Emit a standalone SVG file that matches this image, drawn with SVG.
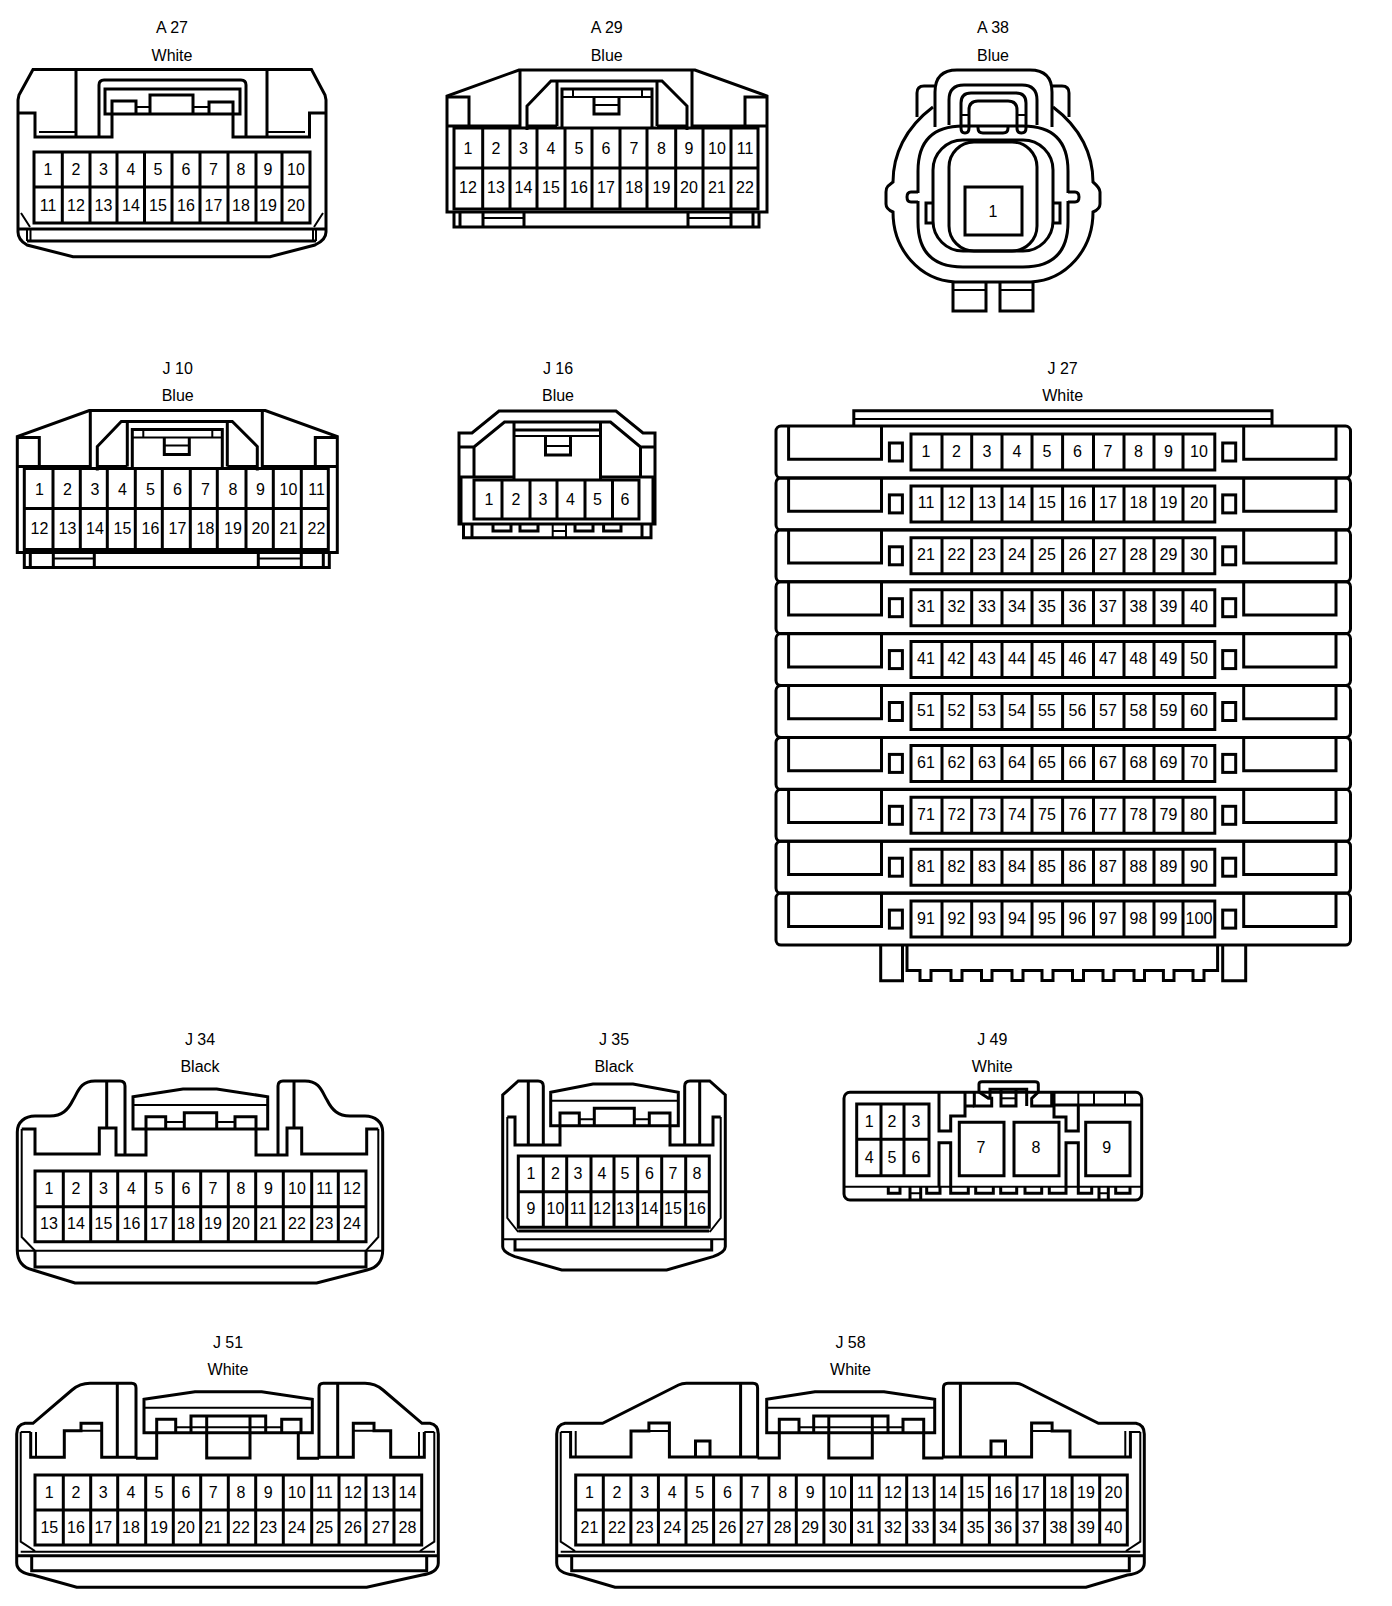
<svg xmlns="http://www.w3.org/2000/svg" xmlns:xlink="http://www.w3.org/1999/xlink" width="1392" height="1606" viewBox="0 0 1392 1606">
<style>
.s{fill:none;stroke:#000;stroke-width:3}
.t{fill:none;stroke:#000;stroke-width:2}
text{font-family:"Liberation Sans",Arial,sans-serif;font-size:16px;fill:#000;text-anchor:middle}
</style>
<defs>
<g id="j27row">
<rect class="s" x="776" y="426" width="574.5" height="52" rx="5"/>
<path class="s" d="M788.6 426V459.3H881.5V426M1243.7 426V459.3H1336V426"/>
<rect class="s" x="889.4" y="443" width="13" height="18"/>
<rect class="s" x="1222.7" y="443" width="13" height="18"/>
<path class="s" d="M911 434H1214.8V470H911ZM942 434V470M971.7 434V470M1002 434V470M1032 434V470M1062.6 434V470M1093.5 434V470M1124 434V470M1154 434V470M1183 434V470"/>
</g>
<g id="a29shell">
<path class="s" d="M447 212V96L519 70H695L767 96V212ZM454 212V227H759V212M460 212V227M483 212V227M524 212V227M688 212V227M731 212V227M753 212V227"/>
<path class="t" d="M483 218H524M688 218H731"/>
<path class="s" d="M447 97H469V126M447 126H520V70M527 130V106L551 81H662L687 106V130M692 70V126H767M745 126V97H767M557 81V126M657 81V126M527 126H557M657 126H687"/>
<path class="s" d="M562 127V89H652V127M594 97V114H619V97"/>
<path class="t" d="M562 97H652M573 89V97M642 89V97M594 105H619"/>
<path class="s" d="M454 128H758V209H454ZM454 168H758M482.7 128V209M510 128V209M537 128V209M565 128V209M592 128V209M620 128V209M647 128V209M675.7 128V209M703 128V209M731 128V209"/>
</g>
<g id="bot51">
<path class="t" d="M20.7 1551.7H435M20.7 1432V1541.7L35 1551M434.3 1432V1541.7L420 1551"/>
<path class="s" d="M17 1555.7H438"/>
</g>
</defs>
<rect width="1392" height="1606" fill="#fff"/>

<g id="A27">
<text x="172" y="33">A 27</text><text x="172" y="61">White</text>
<path class="s" d="M33 69.5H311.5L325 95 326 100V232Q326 240 315 245L270 256.7H73L27 245Q18 240 18 232V100L19 95Z"/>
<path class="s" d="M18 113H35V137H112V113M326 113H309.5V137H233V113M76 70V137M267 70V137M99 137V85Q99 80 104 80H241Q246 80 246 85V137"/>
<path class="s" d="M105 89H240V114H105ZM112 114V101H136V114M150 114V95H193V114M209 114V102H233V114"/>
<path class="t" d="M136 107H150M193 107H209M39 132H76M267 132H305M21 213L30 227M323 213L314 227M27 229V241M30.5 229V241M316 229V241M313 229V241"/>
<path class="s" d="M34 152H310V223H34ZM34 187H310M62.3 152V223M90 152V223M117 152V223M144.5 152V223M172 152V223M200 152V223M228 152V223M256 152V223M282 152V223M18 229H326M27 241H316"/>
<text x="48" y="175">1</text><text x="76" y="175">2</text><text x="103.5" y="175">3</text><text x="131" y="175">4</text><text x="158" y="175">5</text><text x="186" y="175">6</text><text x="213.5" y="175">7</text><text x="241" y="175">8</text><text x="268" y="175">9</text><text x="296" y="175">10</text>
<text x="48" y="210.5">11</text><text x="76" y="210.5">12</text><text x="103.5" y="210.5">13</text><text x="131" y="210.5">14</text><text x="158" y="210.5">15</text><text x="186" y="210.5">16</text><text x="213.5" y="210.5">17</text><text x="241" y="210.5">18</text><text x="268" y="210.5">19</text><text x="296" y="210.5">20</text>
</g>

<g id="A29">
<text x="606.7" y="33">A 29</text><text x="606.7" y="61">Blue</text>
<use href="#a29shell" xlink:href="#a29shell"/>
<text x="468" y="153.5">1</text><text x="496" y="153.5">2</text><text x="523.5" y="153.5">3</text><text x="551" y="153.5">4</text><text x="579" y="153.5">5</text><text x="606" y="153.5">6</text><text x="634" y="153.5">7</text><text x="661.5" y="153.5">8</text><text x="689" y="153.5">9</text><text x="717" y="153.5">10</text><text x="745" y="153.5">11</text>
<text x="468" y="192.5">12</text><text x="496" y="192.5">13</text><text x="523.5" y="192.5">14</text><text x="551" y="192.5">15</text><text x="579" y="192.5">16</text><text x="606" y="192.5">17</text><text x="634" y="192.5">18</text><text x="661.5" y="192.5">19</text><text x="689" y="192.5">20</text><text x="717" y="192.5">21</text><text x="745" y="192.5">22</text>
</g>

<g id="A38">
<text x="993" y="33">A 38</text><text x="993" y="61">Blue</text>
<path class="s" d="M933 107C905 128 893 155 893 182L888 186Q886 188 886 192V204Q886 209 893 212C893 250 920 280 955 282H1031C1066 280 1093 250 1093 212Q1100 209 1100 204V192Q1100 188 1093 182C1093 155 1081 128 1053 107"/>
<path class="s" d="M935 127V92Q935 70 957 70H1030Q1052 70 1052 92V127M917 117V93Q917 86 924 86H935M1069 117V93Q1069 86 1062 86H1052"/>
<path class="s" d="M918 193V171Q918 126 963 126H1023Q1068 126 1068 171V193M1068 201V222Q1068 267 1023 267H963Q918 267 918 222V201"/>
<path class="s" d="M918 192H911Q907 192 907 197Q907 202 911 202H918M1068 192H1075Q1079 192 1079 197Q1079 202 1075 202H1068"/>
<rect class="s" x="933" y="140" width="120" height="111" rx="30"/>
<rect class="s" x="949" y="142" width="88" height="109" rx="25"/>
<path class="s" d="M933 203H926V223H933M1053 203H1060V223H1053M949 125V100Q949 85 964 85H1022Q1037 85 1037 100V125"/>
<path class="s" d="M961 128V103Q961 93 971 93H1016Q1026 93 1026 103V128Q1026 133 1021.5 133Q1017 133 1017 128V110Q1017 101 1008 101H978Q969 101 969 110V128Q969 133 965 133Q961 133 961 128ZM978 125V128Q978 133 983 133H1003Q1008 133 1008 128V125"/>
<path class="t" d="M961 115H969M1017 115H1026M953 290H986M1000 290H1033"/>
<path class="s" d="M953 282V311H986V282M1000 282V311H1033V282"/>
<rect class="s" x="965" y="187" width="57" height="48"/>
<text x="993" y="216.5">1</text>
</g>

<g id="J10">
<text x="177.7" y="374">J 10</text><text x="177.7" y="401">Blue</text>
<g transform="translate(-429.7 340.5)">
<use href="#a29shell" xlink:href="#a29shell"/>
</g>
<g transform="translate(-428.5 341.3)">
<text x="468" y="153.5">1</text><text x="496" y="153.5">2</text><text x="523.5" y="153.5">3</text><text x="551" y="153.5">4</text><text x="579" y="153.5">5</text><text x="606" y="153.5">6</text><text x="634" y="153.5">7</text><text x="661.5" y="153.5">8</text><text x="689" y="153.5">9</text><text x="717" y="153.5">10</text><text x="745" y="153.5">11</text>
<text x="468" y="192.5">12</text><text x="496" y="192.5">13</text><text x="523.5" y="192.5">14</text><text x="551" y="192.5">15</text><text x="579" y="192.5">16</text><text x="606" y="192.5">17</text><text x="634" y="192.5">18</text><text x="661.5" y="192.5">19</text><text x="689" y="192.5">20</text><text x="717" y="192.5">21</text><text x="745" y="192.5">22</text>
</g>
</g>

<g id="J16">
<text x="558" y="374">J 16</text><text x="558" y="401">Blue</text>
<path class="s" d="M459 524V433H472L499 411H616L643 433H655V524ZM463.5 524V537.7H651V524M472 524V537.7M642 524V537.7"/>
<path class="s" d="M459 447H474L504.5 422H610.5L640.5 447H655M474 447V477M640.5 447V477M514 422V480M600.5 422V480M514 430H600.5M545.5 436V455H570.5V436M459 477H514M600.5 477H655M461 477V524M653 477V524"/>
<path class="t" d="M514 436H600.5M545.5 446H570.5"/>
<path class="s" d="M474 480H639V519H474ZM502 480V519M530 480V519M557 480V519M585 480V519M612.5 480V519"/>
<path class="s" d="M493 524V531H511V524M520 524V531H538V524M575 524V531H593V524M603.6 524V531H621V524"/>
<path class="t" d="M552.7 524V537M566 524V537M552.7 531H566"/>
<text x="489" y="504.5">1</text><text x="516" y="504.5">2</text><text x="543" y="504.5">3</text><text x="570.5" y="504.5">4</text><text x="597.5" y="504.5">5</text><text x="625" y="504.5">6</text>
</g>

<g id="J27">
<text x="1062.6" y="374">J 27</text><text x="1062.6" y="401">White</text>
<path class="s" d="M853.8 426V410.7H1272V426"/>
<path class="t" d="M853.8 419H1272"/>
<use href="#j27row" xlink:href="#j27row"/>
<use href="#j27row" xlink:href="#j27row" y="51.9"/>
<use href="#j27row" xlink:href="#j27row" y="103.8"/>
<use href="#j27row" xlink:href="#j27row" y="155.7"/>
<use href="#j27row" xlink:href="#j27row" y="207.6"/>
<use href="#j27row" xlink:href="#j27row" y="259.5"/>
<use href="#j27row" xlink:href="#j27row" y="311.4"/>
<use href="#j27row" xlink:href="#j27row" y="363.3"/>
<use href="#j27row" xlink:href="#j27row" y="415.2"/>
<use href="#j27row" xlink:href="#j27row" y="467.1"/>
<path class="s" d="M880.7 945.5V980.7H902.5V945.5M1222.7 945.5V980.7H1245.7V945.5"/>
<path class="s" d="M907 945.5V970.5H920V980.5H931V970.5H951V980.5H962V970.5H981.5V980.5H992V970.5H1012V980.5H1023V970.5H1042V980.5H1053V970.5H1072.5V980.5H1083.5V970.5H1103V980.5H1114V970.5H1134V980.5H1144.5V970.5H1163.4V980.5H1174V970.5H1193V980.5H1204V970.5H1217.6V945.5"/>
<text x="926" y="456.5">1</text><text x="956.5" y="456.5">2</text><text x="987" y="456.5">3</text><text x="1017" y="456.5">4</text><text x="1047" y="456.5">5</text><text x="1077.5" y="456.5">6</text><text x="1108" y="456.5">7</text><text x="1138.5" y="456.5">8</text><text x="1168.5" y="456.5">9</text><text x="1199" y="456.5">10</text>
<text x="926" y="508.4">11</text><text x="956.5" y="508.4">12</text><text x="987" y="508.4">13</text><text x="1017" y="508.4">14</text><text x="1047" y="508.4">15</text><text x="1077.5" y="508.4">16</text><text x="1108" y="508.4">17</text><text x="1138.5" y="508.4">18</text><text x="1168.5" y="508.4">19</text><text x="1199" y="508.4">20</text>
<text x="926" y="560.3">21</text><text x="956.5" y="560.3">22</text><text x="987" y="560.3">23</text><text x="1017" y="560.3">24</text><text x="1047" y="560.3">25</text><text x="1077.5" y="560.3">26</text><text x="1108" y="560.3">27</text><text x="1138.5" y="560.3">28</text><text x="1168.5" y="560.3">29</text><text x="1199" y="560.3">30</text>
<text x="926" y="612.2">31</text><text x="956.5" y="612.2">32</text><text x="987" y="612.2">33</text><text x="1017" y="612.2">34</text><text x="1047" y="612.2">35</text><text x="1077.5" y="612.2">36</text><text x="1108" y="612.2">37</text><text x="1138.5" y="612.2">38</text><text x="1168.5" y="612.2">39</text><text x="1199" y="612.2">40</text>
<text x="926" y="664.1">41</text><text x="956.5" y="664.1">42</text><text x="987" y="664.1">43</text><text x="1017" y="664.1">44</text><text x="1047" y="664.1">45</text><text x="1077.5" y="664.1">46</text><text x="1108" y="664.1">47</text><text x="1138.5" y="664.1">48</text><text x="1168.5" y="664.1">49</text><text x="1199" y="664.1">50</text>
<text x="926" y="716">51</text><text x="956.5" y="716">52</text><text x="987" y="716">53</text><text x="1017" y="716">54</text><text x="1047" y="716">55</text><text x="1077.5" y="716">56</text><text x="1108" y="716">57</text><text x="1138.5" y="716">58</text><text x="1168.5" y="716">59</text><text x="1199" y="716">60</text>
<text x="926" y="767.9">61</text><text x="956.5" y="767.9">62</text><text x="987" y="767.9">63</text><text x="1017" y="767.9">64</text><text x="1047" y="767.9">65</text><text x="1077.5" y="767.9">66</text><text x="1108" y="767.9">67</text><text x="1138.5" y="767.9">68</text><text x="1168.5" y="767.9">69</text><text x="1199" y="767.9">70</text>
<text x="926" y="819.8">71</text><text x="956.5" y="819.8">72</text><text x="987" y="819.8">73</text><text x="1017" y="819.8">74</text><text x="1047" y="819.8">75</text><text x="1077.5" y="819.8">76</text><text x="1108" y="819.8">77</text><text x="1138.5" y="819.8">78</text><text x="1168.5" y="819.8">79</text><text x="1199" y="819.8">80</text>
<text x="926" y="871.7">81</text><text x="956.5" y="871.7">82</text><text x="987" y="871.7">83</text><text x="1017" y="871.7">84</text><text x="1047" y="871.7">85</text><text x="1077.5" y="871.7">86</text><text x="1108" y="871.7">87</text><text x="1138.5" y="871.7">88</text><text x="1168.5" y="871.7">89</text><text x="1199" y="871.7">90</text>
<text x="926" y="923.6">91</text><text x="956.5" y="923.6">92</text><text x="987" y="923.6">93</text><text x="1017" y="923.6">94</text><text x="1047" y="923.6">95</text><text x="1077.5" y="923.6">96</text><text x="1108" y="923.6">97</text><text x="1138.5" y="923.6">98</text><text x="1168.5" y="923.6">99</text><text x="1199" y="923.6" textLength="27" lengthAdjust="spacingAndGlyphs">100</text>
</g>

<g id="J34">
<text x="200" y="1045">J 34</text><text x="200" y="1072">Black</text>
<path class="s" d="M125 1155V1086Q125 1081 120 1081H95C80 1081 78 1092 73 1100C68 1110 62 1116 50 1116H35C25 1116 17.3 1122 17.3 1132V1250C17.3 1262 24 1268 33 1270L75 1283H316.7L367 1270C376 1268 382.7 1262 382.7 1250V1132C382.7 1122 375 1116 365 1116H350C338 1116 332 1110 327 1100C322 1092 320 1081 305 1081H283Q278 1081 278 1086V1155"/>
<path class="s" d="M21.7 1129H35V1154H99.3V1128H116V1155H146V1129M378.3 1129H366.7V1154H301.7V1128H287V1155H256V1129M106.7 1081V1128M294 1081V1128"/>
<path class="s" d="M133 1096.7L183 1089H216.7L267.7 1096.7V1129H133ZM146 1129V1116.7H165.7V1129M184.3 1129V1112.7H216.7V1129M235 1129V1116.7H256V1129"/>
<path class="t" d="M133 1105H267.7M165.7 1122H184.3M216.7 1122H235M21.7 1129V1237L35 1250.7M378.3 1129V1237L366 1250.7"/>
<path class="s" d="M35 1171H366V1241.7H35ZM35 1206.7H366M63.3 1171V1241.7M90.7 1171V1241.7M117.7 1171V1241.7M145.7 1171V1241.7M173.3 1171V1241.7M200.7 1171V1241.7M228.3 1171V1241.7M255.7 1171V1241.7M283.3 1171V1241.7M311.7 1171V1241.7M338.3 1171V1241.7"/>
<path class="t" d="M17.3 1250.7H382.7"/>
<path class="s" d="M35 1250.7V1267H366V1250.7"/>
<text x="49" y="1194">1</text><text x="76" y="1194">2</text><text x="103.5" y="1194">3</text><text x="131.5" y="1194">4</text><text x="159" y="1194">5</text><text x="186" y="1194">6</text><text x="213" y="1194">7</text><text x="241" y="1194">8</text><text x="268.5" y="1194">9</text><text x="297" y="1194">10</text><text x="324.5" y="1194">11</text><text x="352" y="1194">12</text>
<text x="49" y="1229">13</text><text x="76" y="1229">14</text><text x="103.5" y="1229">15</text><text x="131.5" y="1229">16</text><text x="159" y="1229">17</text><text x="186" y="1229">18</text><text x="213" y="1229">19</text><text x="241" y="1229">20</text><text x="268.5" y="1229">21</text><text x="297" y="1229">22</text><text x="324.5" y="1229">23</text><text x="352" y="1229">24</text>
</g>

<g id="J35">
<text x="614" y="1045">J 35</text><text x="614" y="1072">Black</text>
<path class="s" d="M543.3 1145V1086Q543.3 1081 538 1081H518.3L502.7 1095V1246.7Q502.7 1252 515 1256.7L561.7 1270H666.7L713 1256.7Q725.3 1252 725.3 1246.7V1095L709.7 1081H690Q684.7 1081 684.7 1086V1145"/>
<path class="s" d="M507.3 1117H515V1145H560V1125M720.7 1117H713V1145H670V1125M528.3 1081V1145M699.7 1081V1145"/>
<path class="s" d="M550.7 1092.3L593 1084H633L678.3 1092.3V1125.7H550.7ZM560 1125V1113H579.3V1125M594.3 1125V1108.3H634.3V1125M649.3 1125V1113H670V1125"/>
<path class="t" d="M550.7 1100.7H678.3M579.3 1119.3H594.3M634.3 1119.3H649.3M507.3 1117V1218L518.3 1232M720.7 1117V1218L709.7 1232"/>
<path class="s" d="M518.3 1156H709.3V1227.3H518.3ZM518.3 1191.7H709.3M543.3 1156V1227.3M566.7 1156V1227.3M591 1156V1227.3M614 1156V1227.3M637.7 1156V1227.3M661.7 1156V1227.3M685.7 1156V1227.3M518.3 1231H709.3"/>
<path class="t" d="M503 1239.3H725"/>
<path class="s" d="M515 1239.3V1250H711.7V1239.3"/>
<text x="531" y="1178.5">1</text><text x="555.5" y="1178.5">2</text><text x="578" y="1178.5">3</text><text x="602" y="1178.5">4</text><text x="625" y="1178.5">5</text><text x="649.5" y="1178.5">6</text><text x="673" y="1178.5">7</text><text x="697" y="1178.5">8</text>
<text x="531" y="1214">9</text><text x="555.5" y="1214">10</text><text x="578" y="1214">11</text><text x="602" y="1214">12</text><text x="625" y="1214">13</text><text x="649.5" y="1214">14</text><text x="673" y="1214">15</text><text x="697" y="1214">16</text>
</g>

<g id="J49">
<text x="992.3" y="1045">J 49</text><text x="992.3" y="1072">White</text>
<rect class="s" x="844" y="1092.3" width="297.7" height="107.7" rx="6"/>
<path class="s" d="M979 1092V1084Q979 1081.7 982 1081.7H1035Q1038.3 1081.7 1038.3 1084V1092L1031.7 1098.3V1106H1051.7V1092.3M979 1092L988.3 1098.3H991.7V1106H974.3V1092.3M990 1098.3V1089.3H1026.7V1106M1001 1089.3V1106H1016V1089.3"/>
<path class="t" d="M1001 1098.3H1016"/>
<path class="s" d="M939 1092.3V1131H950.7V1116H965V1092.3M965 1106H974.3M1054 1092.3V1117H1066V1131H1078.3V1105M1051.7 1105H1141.7"/>
<path class="t" d="M1078.3 1092.3V1105M1094 1092.3V1105M1125 1092.3V1105"/>
<path class="s" d="M939 1186.7V1142.7H950.7V1186.7M1066 1186.7V1142.7H1078.3V1186.7"/>
<path class="t" d="M845 1186.7H1141"/>
<path class="s" d="M856.7 1104H929V1175.7H856.7ZM856.7 1139.3H929M881 1104V1175.7M904 1104V1175.7M959.3 1122.3H1004V1175.7H959.3ZM1014 1122.3H1059V1175.7H1014ZM1085.7 1122.3H1130V1175.7H1085.7Z"/>
<path class="s" d="M888.3 1186.7V1193.3H900V1186.7M926.7 1186.7V1193.3H940V1186.7M950.7 1186.7V1193.3H968.3V1186.7M975.7 1186.7V1193.3H993.3V1186.7M1000.7 1186.7V1193.3H1016.7V1186.7M1025 1186.7V1193.3H1041.7V1186.7M1049.3 1186.7V1193.3H1066V1186.7M1078.3 1186.7V1193.3H1091.7V1186.7M1115.7 1186.7V1193.3H1130V1186.7M910 1186.7V1200M920.7 1186.7V1200M1099 1186.7V1200M1108.3 1186.7V1200"/>
<path class="t" d="M910 1193.3H920.7M1099 1193.3H1108.3"/>
<text x="869.3" y="1127">1</text><text x="892" y="1127">2</text><text x="916" y="1127">3</text>
<text x="869.3" y="1162.5">4</text><text x="892" y="1162.5">5</text><text x="916" y="1162.5">6</text>
<text x="981" y="1152.5">7</text><text x="1036" y="1152.5">8</text><text x="1106.7" y="1152.5">9</text>
</g>

<g id="J51">
<text x="228" y="1348">J 51</text><text x="228" y="1375">White</text>
<path class="s" d="M136 1458.3V1388Q136 1383.3 131.7 1383.3H90Q80 1383.3 72 1390L33 1423.3H25Q16.7 1425 16.7 1434V1563C16.7 1570 24 1574 33 1575L76.7 1587.3H366.7L422 1575C431 1574 438.3 1570 438.3 1563V1434Q438.3 1425 430 1423.3H422L383 1390Q375 1383.3 365 1383.3H323.3Q319 1383.3 319 1388V1458.3"/>
<path class="s" d="M30.7 1432V1457.3H64.3V1430.7H81V1423.3H101.7V1457.3H136M136 1458.3H156.7V1431.7M424.3 1432V1457.3H390.7V1430.7H374V1423.3H353.3V1457.3H319M319 1458.3H298.3V1431.7M117.3 1383V1457M337.7 1383V1457"/>
<path class="t" d="M81 1430.7H101.7M353.3 1430.7H374M36 1432V1457M419 1432V1457M20.7 1432H30.7M424.3 1432H434.3"/>
<path class="s" d="M144 1399.3L195 1391.7H261.7L312.3 1399.3V1432.7H144ZM156.7 1432V1419.3H175.7V1432M191 1432V1416H265.7V1432M281.7 1432V1419.3H301V1432M206.7 1416V1458H250V1416"/>
<path class="t" d="M144 1407.7H312.3M175.7 1427.3H281.7"/>
<path class="s" d="M35 1475H421.7V1545H35ZM35 1510H421.7M63.3 1475V1545M90.7 1475V1545M117.7 1475V1545M145.7 1475V1545M173.3 1475V1545M200.7 1475V1545M228.3 1475V1545M255.7 1475V1545M283.3 1475V1545M311.7 1475V1545M339 1475V1545M366 1475V1545M394 1475V1545"/>
<use href="#bot51" xlink:href="#bot51"/>
<path class="s" d="M31.7 1555.7V1570.7H426.7V1555.7"/>
<text x="49.3" y="1498">1</text><text x="76" y="1498">2</text><text x="103.3" y="1498">3</text><text x="131" y="1498">4</text><text x="159" y="1498">5</text><text x="186" y="1498">6</text><text x="213.3" y="1498">7</text><text x="241" y="1498">8</text><text x="268.3" y="1498">9</text><text x="296.7" y="1498">10</text><text x="324.3" y="1498">11</text><text x="353" y="1498">12</text><text x="380.7" y="1498">13</text><text x="407.5" y="1498">14</text>
<text x="49.3" y="1533">15</text><text x="76" y="1533">16</text><text x="103.3" y="1533">17</text><text x="131" y="1533">18</text><text x="159" y="1533">19</text><text x="186" y="1533">20</text><text x="213.3" y="1533">21</text><text x="241" y="1533">22</text><text x="268.3" y="1533">23</text><text x="296.7" y="1533">24</text><text x="324.3" y="1533">25</text><text x="353" y="1533">26</text><text x="380.7" y="1533">27</text><text x="407.5" y="1533">28</text>
</g>

<g id="J58">
<text x="850.5" y="1348">J 58</text><text x="850.5" y="1375">White</text>
<path class="s" d="M757.6 1458V1388Q757.6 1383.3 753 1383.3H686.4Q682 1383.3 678.5 1385L602.6 1423.3H565Q556.7 1425 556.7 1434V1563C556.7 1570 564 1574 573.7 1575L615 1587.3H1086L1127.3 1575C1137 1574 1144.3 1570 1144.3 1563V1434Q1144.3 1425 1136 1423.3H1098.4L1022.5 1385Q1019 1383.3 1014.6 1383.3H948Q943.4 1383.3 943.4 1388V1458"/>
<path class="s" d="M570.6 1431V1457H631V1431H648.9V1423H669.4V1457H757.6M757.6 1458H779.3V1431.7M1130.4 1431V1457H1070V1431H1052.1V1423H1031.6V1457H943.4M943.4 1458H923.7V1431.7M695.5 1457V1441H710V1457M1005.5 1457V1441H991V1457M740.6 1383V1457M960.4 1383V1457"/>
<path class="t" d="M648.9 1431H669.4M1031.6 1431H1052.1M575.7 1431V1457M1125.3 1431V1457M560.7 1432H570.6M1130.4 1432H1140.3"/>
<path class="s" d="M766.7 1399.3L815 1391.7H884L934.7 1399.3V1432.7H766.7ZM779.3 1432V1419.3H799V1432M813.7 1432V1416H888V1432M903 1432V1419.3H923.7V1432M828.8 1416V1458H872.3V1416"/>
<path class="t" d="M766.7 1407.7H934.7M799 1427.3H903"/>
<path class="s" d="M575.7 1475H1127.3V1545H575.7ZM575.7 1510H1127.3M603.3 1475V1545M630.9 1475V1545M658.4 1475V1545M686 1475V1545M713.6 1475V1545M741.2 1475V1545M768.8 1475V1545M796.3 1475V1545M823.9 1475V1545M851.5 1475V1545M879.1 1475V1545M906.7 1475V1545M934.2 1475V1545M961.8 1475V1545M989.4 1475V1545M1017 1475V1545M1044.6 1475V1545M1072.1 1475V1545M1099.7 1475V1545"/>
<path class="t" d="M560.7 1551.7H1140.3M560.7 1432V1541.7L575 1551M1140.3 1432V1541.7L1126 1551"/>
<path class="s" d="M557 1555.7H1144M571.7 1555.7V1570.7H1129.3V1555.7"/>
<text x="589.5" y="1498">1</text><text x="617" y="1498">2</text><text x="644.7" y="1498">3</text><text x="672.2" y="1498">4</text><text x="699.8" y="1498">5</text><text x="727.4" y="1498">6</text><text x="755" y="1498">7</text><text x="782.6" y="1498">8</text><text x="810.1" y="1498">9</text><text x="837.7" y="1498">10</text><text x="865.3" y="1498">11</text><text x="892.9" y="1498">12</text><text x="920.5" y="1498">13</text><text x="948" y="1498">14</text><text x="975.6" y="1498">15</text><text x="1003.2" y="1498">16</text><text x="1030.8" y="1498">17</text><text x="1058.4" y="1498">18</text><text x="1085.9" y="1498">19</text><text x="1113.5" y="1498">20</text>
<text x="589.5" y="1533">21</text><text x="617" y="1533">22</text><text x="644.7" y="1533">23</text><text x="672.2" y="1533">24</text><text x="699.8" y="1533">25</text><text x="727.4" y="1533">26</text><text x="755" y="1533">27</text><text x="782.6" y="1533">28</text><text x="810.1" y="1533">29</text><text x="837.7" y="1533">30</text><text x="865.3" y="1533">31</text><text x="892.9" y="1533">32</text><text x="920.5" y="1533">33</text><text x="948" y="1533">34</text><text x="975.6" y="1533">35</text><text x="1003.2" y="1533">36</text><text x="1030.8" y="1533">37</text><text x="1058.4" y="1533">38</text><text x="1085.9" y="1533">39</text><text x="1113.5" y="1533">40</text>
</g>
</svg>
